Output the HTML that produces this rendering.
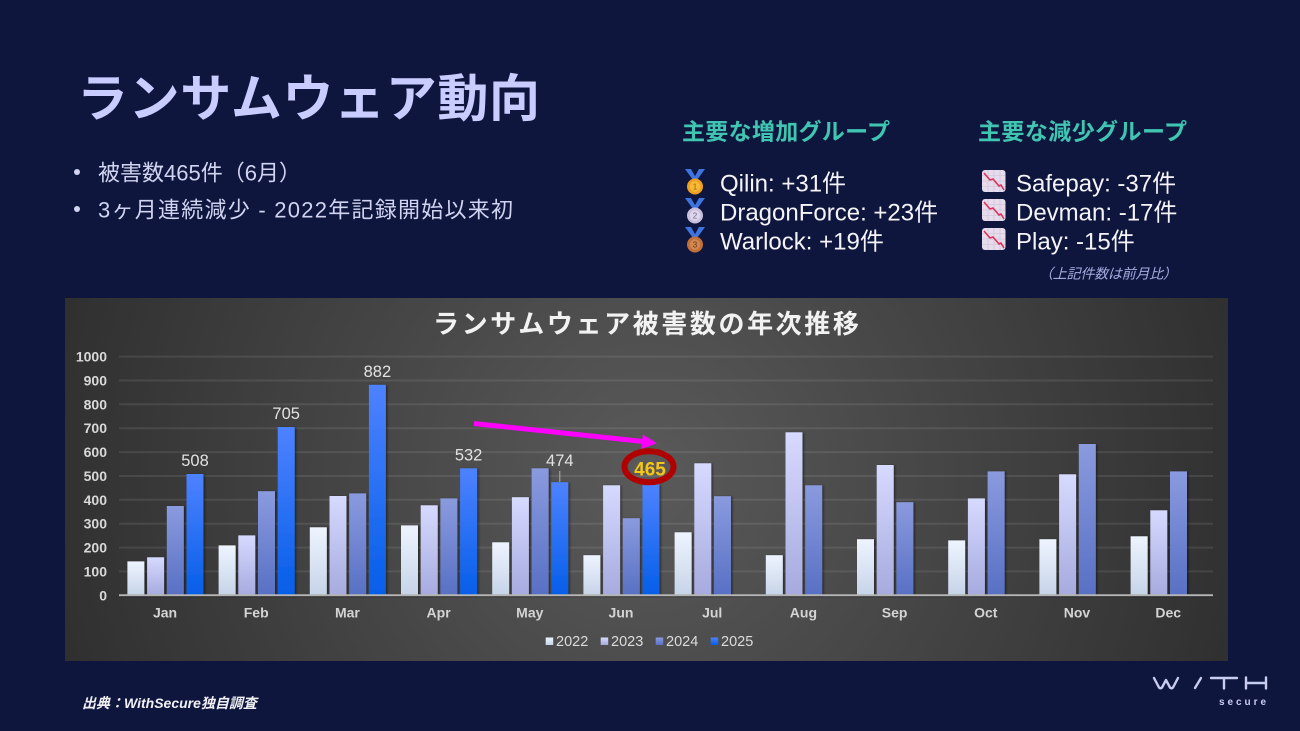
<!DOCTYPE html>
<html><head><meta charset="utf-8">
<style>
html,body{margin:0;padding:0;background:#0f163e;}
svg{display:block;}
.jp{font-family:"Liberation Sans","Noto Sans CJK JP",sans-serif;}
</style></head>
<body>
<svg width="1300" height="731" viewBox="0 0 1300 731" xmlns="http://www.w3.org/2000/svg" class="jp" font-family="Liberation Sans, Noto Sans CJK JP, sans-serif">
<defs>
  <radialGradient id="cbg" gradientUnits="userSpaceOnUse" cx="647" cy="478" r="690">
    <stop offset="0" stop-color="#5a5a5a"/>
    <stop offset="1" stop-color="#2a2a2a"/>
  </radialGradient>
  <linearGradient id="g22" x1="0" y1="0" x2="0" y2="1"><stop offset="0" stop-color="#eef4ff"/><stop offset="1" stop-color="#c6d4e8"/></linearGradient>
  <linearGradient id="g23" x1="0" y1="0" x2="0" y2="1"><stop offset="0" stop-color="#d6daff"/><stop offset="1" stop-color="#a6aade"/></linearGradient>
  <linearGradient id="g24" x1="0" y1="0" x2="0" y2="1"><stop offset="0" stop-color="#8a9ade"/><stop offset="1" stop-color="#5870c4"/></linearGradient>
  <linearGradient id="g25" x1="0" y1="0" x2="0" y2="1"><stop offset="0" stop-color="#4e82ff"/><stop offset="1" stop-color="#055ee8"/></linearGradient>
  <filter id="sh" x="-30%" y="-10%" width="160%" height="130%"><feDropShadow dx="1.5" dy="0.5" stdDeviation="1" flood-color="#000" flood-opacity="0.45"/></filter>
</defs>

<rect width="1300" height="731" fill="#0f163e"/>

<!-- Title -->
<text x="77" y="116.5" font-size="51" font-weight="bold" fill="#c8ccff" textLength="463" lengthAdjust="spacing">ランサムウェア動向</text>

<!-- Bullets -->
<circle cx="77" cy="172" r="3" fill="#d0d4f0"/>
<text x="98" y="180.4" font-size="22" fill="#d0d4f0">被害数465件（6月）</text>
<circle cx="77" cy="209" r="3" fill="#d0d4f0"/>
<text x="98" y="217.4" font-size="22" fill="#d0d4f0" textLength="415" lengthAdjust="spacing">3ヶ月連続減少 - 2022年記録開始以来初</text>

<!-- Right groups -->
<text x="682" y="139.7" font-size="23" font-weight="bold" fill="#3fc5b1" textLength="208" lengthAdjust="spacing">主要な増加グループ</text>
<text x="978" y="139.7" font-size="23" font-weight="bold" fill="#3fc5b1" textLength="209" lengthAdjust="spacing">主要な減少グループ</text>

<!-- medals -->
<g id="m1" transform="translate(685,169)">
  <polygon points="0,0 6,0 11,9 8,11" fill="#3d74e0"/><polygon points="20,0 14,0 9,9 12,11" fill="#3d74e0"/>
  <circle cx="10" cy="17.5" r="8" fill="#f0a020"/><circle cx="10" cy="17.5" r="5.2" fill="#f7b938"/>
  <text x="10" y="20.3" font-size="8" text-anchor="middle" fill="#a06000">1</text>
</g>
<g transform="translate(685,198)">
  <polygon points="0,0 6,0 11,9 8,11" fill="#3d74e0"/><polygon points="20,0 14,0 9,9 12,11" fill="#3d74e0"/>
  <circle cx="10" cy="17.5" r="8" fill="#c8c0dc"/><circle cx="10" cy="17.5" r="5.2" fill="#ddd6ec"/>
  <text x="10" y="20.3" font-size="8" text-anchor="middle" fill="#706880">2</text>
</g>
<g transform="translate(685,227)">
  <polygon points="0,0 6,0 11,9 8,11" fill="#3d74e0"/><polygon points="20,0 14,0 9,9 12,11" fill="#3d74e0"/>
  <circle cx="10" cy="17.5" r="8" fill="#c07038"/><circle cx="10" cy="17.5" r="5.2" fill="#d08850"/>
  <text x="10" y="20.3" font-size="8" text-anchor="middle" fill="#703010">3</text>
</g>

<text x="720" y="191.6" font-size="24" fill="#f4f4f8">Qilin: +31件</text>
<text x="720" y="220.6" font-size="24" fill="#f4f4f8">DragonForce: +23件</text>
<text x="720" y="249.6" font-size="24" fill="#f4f4f8">Warlock: +19件</text>

<!-- decrease icons -->
<g id="dec" transform="translate(982,170)">
  <rect x="0" y="0" width="23.5" height="22" rx="3" fill="#e6dcec"/>
  <path d="M0 5.5H23.5M0 11H23.5M0 16.5H23.5M6 0V22M12 0V22M18 0V22" stroke="#d2c6dc" stroke-width="0.8"/>
  <polyline points="2,3 8,10 11,9 17,16 19,15 22,20" fill="none" stroke="#e0305a" stroke-width="1.6"/>
</g>
<use href="#dec" transform="translate(0,29)"/>
<use href="#dec" transform="translate(0,58)"/>

<text x="1016" y="191.6" font-size="24" fill="#f4f4f8">Safepay: -37件</text>
<text x="1016" y="220.6" font-size="24" fill="#f4f4f8">Devman: -17件</text>
<text x="1016" y="249.6" font-size="24" fill="#f4f4f8">Play: -15件</text>

<text x="1039" y="278.3" font-size="14" font-style="italic" fill="#a4acdf" textLength="138" lengthAdjust="spacing">（上記件数は前月比）</text>

<!-- Chart -->
<rect x="65" y="298" width="1163" height="363" fill="url(#cbg)"/>
<text x="433" y="332.9" font-size="26" font-weight="bold" letter-spacing="2.6" fill="#f2f2f2">ランサムウェア被害数の年次推移</text>

<!-- gridlines -->
<g stroke="#ffffff" stroke-opacity="0.09" stroke-width="2">
  <line x1="119" x2="1213" y1="571.4" y2="571.4"/>
  <line x1="119" x2="1213" y1="547.6" y2="547.6"/>
  <line x1="119" x2="1213" y1="523.7" y2="523.7"/>
  <line x1="119" x2="1213" y1="499.8" y2="499.8"/>
  <line x1="119" x2="1213" y1="476" y2="476"/>
  <line x1="119" x2="1213" y1="452.1" y2="452.1"/>
  <line x1="119" x2="1213" y1="428.2" y2="428.2"/>
  <line x1="119" x2="1213" y1="404.3" y2="404.3"/>
  <line x1="119" x2="1213" y1="380.5" y2="380.5"/>
  <line x1="119" x2="1213" y1="356.6" y2="356.6"/>
</g>

<!-- y labels -->
<g font-size="14" font-weight="bold" fill="#d8d8d8" text-anchor="end">
  <text x="107" y="600.3">0</text>
  <text x="107" y="576.4">100</text>
  <text x="107" y="552.6">200</text>
  <text x="107" y="528.7">300</text>
  <text x="107" y="504.8">400</text>
  <text x="107" y="481">500</text>
  <text x="107" y="457.1">600</text>
  <text x="107" y="433.2">700</text>
  <text x="107" y="409.3">800</text>
  <text x="107" y="385.5">900</text>
  <text x="107" y="361.6">1000</text>
</g>

<!-- bars -->
<g filter="url(#sh)">
<g fill="url(#g22)">
  <rect x="127.4" y="561.4" width="17" height="33.9"/>
  <rect x="218.6" y="545.4" width="17" height="49.9"/>
  <rect x="309.8" y="527.3" width="17" height="68"/>
  <rect x="401" y="525.4" width="17" height="69.9"/>
  <rect x="492.2" y="542.3" width="17" height="53"/>
  <rect x="583.4" y="555.2" width="17" height="40.1"/>
  <rect x="674.6" y="532.3" width="17" height="63"/>
  <rect x="765.8" y="555.2" width="17" height="40.1"/>
  <rect x="857" y="539.2" width="17" height="56.1"/>
  <rect x="948.2" y="540.4" width="17" height="54.9"/>
  <rect x="1039.4" y="539.2" width="17" height="56.1"/>
  <rect x="1130.6" y="536.3" width="17" height="59"/>
</g>
<g fill="url(#g23)">
  <rect x="147.1" y="557.3" width="17" height="38"/>
  <rect x="238.3" y="535.4" width="17" height="59.9"/>
  <rect x="329.5" y="496" width="17" height="99.3"/>
  <rect x="420.7" y="505.3" width="17" height="90"/>
  <rect x="511.9" y="497.2" width="17" height="98.1"/>
  <rect x="603.1" y="485.3" width="17" height="110"/>
  <rect x="694.3" y="463.3" width="17" height="132"/>
  <rect x="785.5" y="432.3" width="17" height="163"/>
  <rect x="876.7" y="465" width="17" height="130.3"/>
  <rect x="967.9" y="498.4" width="17" height="96.9"/>
  <rect x="1059.1" y="474.3" width="17" height="121"/>
  <rect x="1150.3" y="510.3" width="17" height="85"/>
</g>
<g fill="url(#g24)">
  <rect x="166.8" y="506" width="17" height="89.3"/>
  <rect x="258" y="491.2" width="17" height="104.1"/>
  <rect x="349.2" y="493.4" width="17" height="101.9"/>
  <rect x="440.4" y="498.4" width="17" height="96.9"/>
  <rect x="531.6" y="468.3" width="17" height="127"/>
  <rect x="622.8" y="518.2" width="17" height="77.1"/>
  <rect x="714" y="496.2" width="17" height="99.1"/>
  <rect x="805.2" y="485.3" width="17" height="110"/>
  <rect x="896.4" y="502.2" width="17" height="93.1"/>
  <rect x="987.6" y="471.4" width="17" height="123.9"/>
  <rect x="1078.8" y="444" width="17" height="151.3"/>
  <rect x="1170" y="471.4" width="17" height="123.9"/>
</g>
<g fill="url(#g25)">
  <rect x="186.5" y="474" width="17" height="121.3"/>
  <rect x="277.7" y="427" width="17" height="168.3"/>
  <rect x="368.9" y="384.8" width="17" height="210.5"/>
  <rect x="460.1" y="468.3" width="17" height="127"/>
  <rect x="551.3" y="482.2" width="17" height="113.1"/>
  <rect x="642.5" y="484.3" width="17" height="111"/>
</g>
</g>

<!-- axis -->
<line x1="119" x2="1213" y1="596.3" y2="596.3" stroke="#000" stroke-opacity="0.35" stroke-width="2"/>
<line x1="119" x2="1213" y1="595.3" y2="595.3" stroke="#b4b4b4" stroke-width="2"/>

<!-- data labels -->
<g font-size="16.5" fill="#e2e2e2" text-anchor="middle">
  <text x="195" y="466">508</text>
  <text x="286.2" y="419">705</text>
  <text x="377.4" y="376.8">882</text>
  <text x="468.6" y="460.3">532</text>
  <text x="559.8" y="466">474</text>
</g>
<line x1="559.8" x2="559.8" y1="471" y2="482" stroke="#b0b0b0" stroke-width="1"/>

<!-- 465 highlight -->
<ellipse cx="649" cy="466.7" rx="24.5" ry="15.5" fill="none" stroke="#b00000" stroke-width="6"/>
<text x="650" y="475.3" font-size="19" font-weight="bold" fill="#f5c518" text-anchor="middle">465</text>

<!-- arrow -->
<line x1="474" y1="423.5" x2="643" y2="441.5" stroke="#ff00ff" stroke-width="5"/>
<polygon points="657,443.3 641.3,449 642.9,434.5" fill="#ff00ff"/>

<!-- month labels -->
<g font-size="14" font-weight="bold" fill="#d4d4d4" text-anchor="middle">
  <text x="165" y="617.7">Jan</text>
  <text x="256.2" y="617.7">Feb</text>
  <text x="347.4" y="617.7">Mar</text>
  <text x="438.6" y="617.7">Apr</text>
  <text x="529.8" y="617.7">May</text>
  <text x="621" y="617.7">Jun</text>
  <text x="712.2" y="617.7">Jul</text>
  <text x="803.4" y="617.7">Aug</text>
  <text x="894.6" y="617.7">Sep</text>
  <text x="985.8" y="617.7">Oct</text>
  <text x="1077" y="617.7">Nov</text>
  <text x="1168.2" y="617.7">Dec</text>
</g>

<!-- legend -->
<rect x="545.7" y="637.5" width="7.5" height="7.5" fill="url(#g22)"/>
<text x="556" y="646.2" font-size="14.5" fill="#dcdcdc">2022</text>
<rect x="600.7" y="637.5" width="7.5" height="7.5" fill="url(#g23)"/>
<text x="611" y="646.2" font-size="14.5" fill="#dcdcdc">2023</text>
<rect x="655.7" y="637.5" width="7.5" height="7.5" fill="url(#g24)"/>
<text x="666" y="646.2" font-size="14.5" fill="#dcdcdc">2024</text>
<rect x="710.7" y="637.5" width="7.5" height="7.5" fill="url(#g25)"/>
<text x="721" y="646.2" font-size="14.5" fill="#dcdcdc">2025</text>

<!-- footer -->
<text x="82" y="708" font-size="14" font-weight="bold" font-style="italic" fill="#f0f0f4">出典：WithSecure独自調査</text>

<!-- logo -->
<g fill="none" stroke="#c8ccf0" stroke-width="2.4" stroke-linecap="round" stroke-linejoin="round">
  <path d="M1154 678 L1159 687.5 Q1160.5 689 1162 687.5 L1166 680 L1170 687.5 Q1171.5 689 1173 687.5 L1178 678"/>
  <line x1="1201" y1="678" x2="1195" y2="688"/>
  <path d="M1211 678 H1237 M1224 678 V688.5"/>
  <path d="M1246 677.5 V688.5 M1266 677.5 V688.5 M1246 683 H1266"/>
</g>
<text x="1219" y="705" font-size="10" font-weight="bold" fill="#c8ccf0" textLength="47" lengthAdjust="spacing">secure</text>
</svg>
</body></html>
